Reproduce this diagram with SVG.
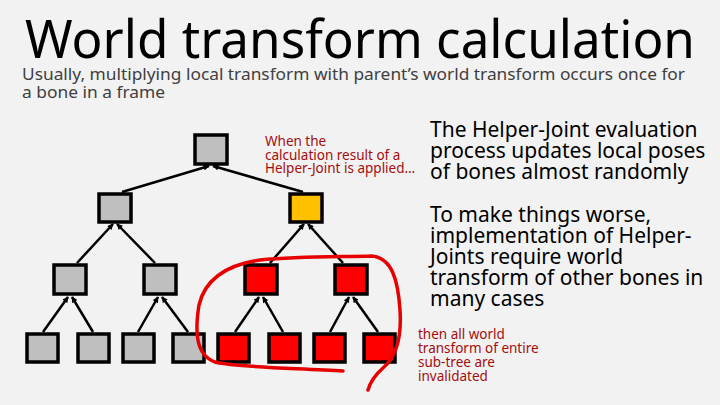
<svg xmlns="http://www.w3.org/2000/svg" width="720" height="405" viewBox="0 0 720 405">
<defs>
<style>
.t{font-family:"Noto Sans","DejaVu Sans",sans-serif}
.g{fill:#bfbfbf;stroke:#000;stroke-width:3.5}
.y{fill:#ffc000;stroke:#000;stroke-width:3.5}
.r{fill:#ff0000;stroke:#000;stroke-width:3.5}
.c line{stroke:#000;stroke-width:2.5;marker-end:url(#ah)}
.note{fill:#a50d0d;font-size:13.5px}
.body{fill:#000;font-size:21px}
</style>
<marker id="ah" viewBox="0 0 10 10" refX="9" refY="5" markerWidth="7" markerHeight="6" markerUnits="userSpaceOnUse" orient="auto">
<path d="M0,0 L10,5 L0,10 z" fill="#000"/>
</marker>
</defs>
<rect width="720" height="405" fill="#f2f2f2"/>
<text class="t" x="25" y="58" font-size="52" textLength="670" lengthAdjust="spacingAndGlyphs" fill="#000">World transform calculation</text>
<text class="t" font-size="17" fill="#404040"><tspan x="22" y="80" textLength="663" lengthAdjust="spacingAndGlyphs">Usually, multiplying local transform with parent’s world transform occurs once for</tspan><tspan x="22" y="98" textLength="143" lengthAdjust="spacingAndGlyphs">a bone in a frame</tspan></text>

<g id="connectors" class="c">
<line x1="122" y1="192" x2="209" y2="166"/>
<line x1="303" y1="192" x2="213" y2="166"/>
<line x1="77" y1="263" x2="113" y2="224"/>
<line x1="155" y1="263" x2="117" y2="224"/>
<line x1="270" y1="263" x2="304" y2="224"/>
<line x1="343" y1="263" x2="308" y2="224"/>
<line x1="43" y1="332" x2="68" y2="297"/>
<line x1="93" y1="332" x2="72" y2="297"/>
<line x1="138" y1="332" x2="158" y2="297"/>
<line x1="188" y1="332" x2="162" y2="297"/>
<line x1="235" y1="332" x2="259" y2="297"/>
<line x1="283" y1="332" x2="263" y2="297"/>
<line x1="330" y1="332" x2="349" y2="297"/>
<line x1="378" y1="332" x2="353" y2="297"/>
</g>

<g id="n-root"><rect class="g" x="195" y="135" width="32" height="29"/></g>
<g id="n-l2a"><rect class="g" x="99" y="194" width="32" height="28"/></g>
<g id="n-l2b"><rect class="y" x="290" y="194" width="32" height="28"/></g>
<g id="n-l3a"><rect class="g" x="54" y="265" width="32" height="29"/></g>
<g id="n-l3b"><rect class="g" x="144" y="265" width="32" height="29"/></g>
<g id="n-l3c"><rect class="r" x="245" y="265" width="32" height="29"/></g>
<g id="n-l3d"><rect class="r" x="335" y="265" width="32" height="29"/></g>
<g id="n-l4a"><rect class="g" x="27" y="334" width="31" height="28"/></g>
<g id="n-l4b"><rect class="g" x="78" y="334" width="31" height="28"/></g>
<g id="n-l4c"><rect class="g" x="123" y="334" width="31" height="28"/></g>
<g id="n-l4d"><rect class="g" x="173" y="334" width="31" height="28"/></g>
<g id="n-l4e"><rect class="r" x="218" y="334" width="31" height="28"/></g>
<g id="n-l4f"><rect class="r" x="269" y="334" width="31" height="28"/></g>
<g id="n-l4g"><rect class="r" x="314" y="334" width="31" height="28"/></g>
<g id="n-l4h"><rect class="r" x="364" y="334" width="31" height="28"/></g>

<path d="M343,371 C300,368 240,368 215,362 C195,355 195,330 199,305 C205,280 225,265 260,260 C300,256 340,257 372,256 C392,258 398,280 400,310 C402,340 395,358 383,368 C375,375 370,383 368,390" fill="none" stroke="#e60000" stroke-width="3.5" stroke-linecap="round"/>

<text class="t note"><tspan x="265" y="146">When the</tspan><tspan x="265" y="160">calculation result of a</tspan><tspan x="265" y="173">Helper-Joint is applied…</tspan></text>

<text class="t body"><tspan x="430" y="137">The Helper-Joint evaluation</tspan><tspan x="430" y="158">process updates local poses</tspan><tspan x="430" y="179">of bones almost randomly</tspan></text>

<text class="t body"><tspan x="430" y="222">To make things worse,</tspan><tspan x="430" y="243">implementation of Helper-</tspan><tspan x="430" y="264">Joints require world</tspan><tspan x="430" y="285">transform of other bones in</tspan><tspan x="430" y="306">many cases</tspan></text>

<text class="t note"><tspan x="418" y="339">then all world</tspan><tspan x="418" y="353">transform of entire</tspan><tspan x="418" y="367">sub-tree are</tspan><tspan x="418" y="381">invalidated</tspan></text>
</svg>
